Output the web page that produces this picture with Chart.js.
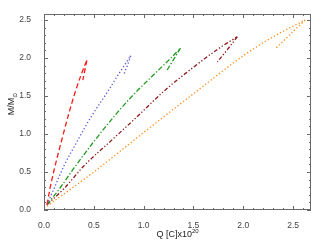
<!DOCTYPE html>
<html>
<head>
<meta charset="UTF-8" />
<title>M/Msun vs Q</title>
<script src="https://cdn.jsdelivr.net/npm/chart.js"></script>
<style>
  html, body { margin: 0; padding: 0; background: #fff; }
  #wrap { width: 322px; height: 246px; position: relative; }
</style>
</head>
<body>
<div id="wrap"><canvas id="c"></canvas></div>
<script>
// charge Q [C]x10^20 and mass M/Msun: rising branch up to the cusp, then the short branch back down
const redQ = [0.03, 0.06, 0.10, 0.17, 0.245, 0.31, 0.37, 0.43]
const redM = [0.07, 0.28, 0.52, 0.88, 1.25, 1.54, 1.77, 1.97]
const redBackQ = [0.43, 0.41, 0.39]
const redBackM = [1.97, 1.84, 1.71]

const blueQ = [0.03, 0.10, 0.20, 0.34, 0.46, 0.63, 0.75, 0.87]
const blueM = [0.07, 0.28, 0.58, 0.92, 1.20, 1.54, 1.79, 2.03]
const blueBackQ = [0.87, 0.84, 0.80]
const blueBackM = [2.03, 1.91, 1.78]

const greenQ = [0.03, 0.15, 0.30, 0.50, 0.715, 0.90, 1.10, 1.25, 1.37]
const greenM = [0.07, 0.27, 0.55, 0.90, 1.25, 1.52, 1.78, 1.97, 2.13]
const greenBackQ = [1.37, 1.30, 1.235]
const greenBackM = [2.13, 1.98, 1.84]

const brownQ = [0.03, 0.20, 0.40, 0.68, 0.92, 1.20, 1.50, 1.77, 1.94]
const brownM = [0.07, 0.28, 0.58, 0.92, 1.21, 1.56, 1.88, 2.14, 2.28]
const brownBackQ = [1.94, 1.84, 1.74]
const brownBackM = [2.28, 2.11, 1.95]

const orangeQ = [0.03, 0.50, 1.00, 1.50, 2.00, 2.30, 2.62]
const orangeM = [0.05, 0.50, 1.02, 1.53, 2.03, 2.28, 2.50]
const orangeBackQ = [2.62, 2.47, 2.32]
const orangeBackM = [2.50, 2.31, 2.12]

const xTicks = [0, 0.5, 1.0, 1.5, 2.0, 2.5]
const yTicks = [0, 0.5, 1.0, 1.5, 2.0, 2.5]

function pts(qs, ms) {
  return qs.map((q, i) => ({ x: q, y: ms[i] }))
}

const FONT = '"Liberation Sans", Arial, sans-serif'

// frame with inward ticks on all four sides, plus axis titles
const framePlugin = {
  id: 'frame',
  afterDraw(chart) {
    const ctx = chart.ctx
    const { left, right, top, bottom } = chart.chartArea
    const xs = chart.scales.x
    const ys = chart.scales.y
    ctx.save()
    ctx.strokeStyle = '#6a6a6a'
    ctx.lineWidth = 1
    ctx.strokeRect(left + 0.5, top + 0.5, right - left - 1, bottom - top - 1)
    ctx.beginPath()
    for (let i = 0; i <= 26; i++) {
      const px = Math.round(xs.getPixelForValue(i / 10)) + 0.5
      if (px > right) break
      const len = i % 5 === 0 ? 4 : 2
      ctx.moveTo(px, bottom); ctx.lineTo(px, bottom - len)
      ctx.moveTo(px, top); ctx.lineTo(px, top + len)
    }
    for (let i = 0; i <= 25; i++) {
      const py = Math.round(ys.getPixelForValue(i / 10)) + 0.5
      if (py < top) break
      const len = i % 5 === 0 ? 4 : 2
      ctx.moveTo(left, py); ctx.lineTo(left + len, py)
      ctx.moveTo(right, py); ctx.lineTo(right - len, py)
    }
    ctx.stroke()

    // x title: Q [C]x10^20
    ctx.fillStyle = '#222'
    ctx.textBaseline = 'alphabetic'
    ctx.textAlign = 'left'
    const main = 'Q [C]x10'
    ctx.font = '6px ' + FONT
    const supW = ctx.measureText('20').width
    ctx.font = '9px ' + FONT
    const mainW = ctx.measureText(main).width
    const x0 = (left + right) / 2 - (mainW + supW) / 2
    ctx.fillText(main, x0, 237)
    ctx.font = '6px ' + FONT
    ctx.fillText('20', x0 + mainW, 233)

    // y title: M/M_sun, rotated
    ctx.translate(14, (top + bottom) / 2 - 8)
    ctx.rotate(-Math.PI / 2)
    ctx.font = '9px ' + FONT
    const yMain = 'M/M'
    const yMainW = ctx.measureText(yMain).width
    ctx.font = '6px "DejaVu Sans", sans-serif'
    const subW = ctx.measureText('\u2299').width
    ctx.font = '9px ' + FONT
    ctx.fillText(yMain, -(yMainW + subW) / 2, 0)
    ctx.font = '6px "DejaVu Sans", sans-serif'
    ctx.fillText('\u2299', -(yMainW + subW) / 2 + yMainW, 2.5)
    ctx.restore()
  }
}

function ds(qs, ms, color, dash, smooth) {
  return {
    data: pts(qs, ms),
    borderColor: color,
    borderWidth: 1.3,
    borderDash: dash,
    pointRadius: 0,
    showLine: true,
    fill: false,
    cubicInterpolationMode: smooth ? 'monotone' : 'default',
    tension: smooth ? 0.4 : 0
  }
}

const RED = '#ff1a1a', BLUE = '#5a5ad8', GREEN = '#1f9a1f', BROWN = '#8e1b1b', ORANGE = '#ff8c1a'
const dashRed = [5, 3]
const dashBlue = [1.3, 2.2]
const dashGreen = [5, 2, 1.3, 2]
const dashBrown = [4, 2, 1.3, 2, 1.3, 2]
const dashOrange = [1.3, 2.2]

new Chart(document.getElementById('c').getContext('2d'), {
  type: 'scatter',
  data: {
    datasets: [
      ds(redQ, redM, RED, dashRed, true),
      ds(redBackQ, redBackM, RED, dashRed, false),
      ds(blueQ, blueM, BLUE, dashBlue, true),
      ds(blueBackQ, blueBackM, BLUE, dashBlue, false),
      ds(greenQ, greenM, GREEN, dashGreen, true),
      ds(greenBackQ, greenBackM, GREEN, dashGreen, false),
      ds(brownQ, brownM, BROWN, dashBrown, true),
      ds(brownBackQ, brownBackM, BROWN, dashBrown, false),
      ds(orangeQ, orangeM, ORANGE, dashOrange, true),
      ds(orangeBackQ, orangeBackM, ORANGE, dashOrange, false)
    ]
  },
  options: {
    responsive: true,
    maintainAspectRatio: false,
    animation: false,
    layout: { padding: { left: 0, right: 11, top: 14, bottom: 0 } },
    plugins: { legend: { display: false }, tooltip: { enabled: false } },
    scales: {
      x: {
        type: 'linear',
        min: 0,
        max: 2.68,
        grid: { display: false },
        border: { display: false },
        afterBuildTicks: (s) => { s.ticks = xTicks.map(v => ({ value: v })) },
        afterFit: (s) => { s.height = 36 },
        ticks: {
          color: '#444',
          padding: 3,
          maxRotation: 0,
          font: { size: 8.5, family: FONT },
          callback: (v) => Number(v).toFixed(1)
        }
      },
      y: {
        type: 'linear',
        min: 0,
        max: 2.58,
        grid: { display: false },
        border: { display: false },
        afterBuildTicks: (s) => { s.ticks = yTicks.map(v => ({ value: v })) },
        afterFit: (s) => { s.width = 44 },
        ticks: {
          color: '#444',
          padding: 5,
          font: { size: 8.5, family: FONT },
          callback: (v) => Number(v).toFixed(1)
        }
      }
    }
  },
  plugins: [framePlugin]
})
</script>
</body>
</html>
